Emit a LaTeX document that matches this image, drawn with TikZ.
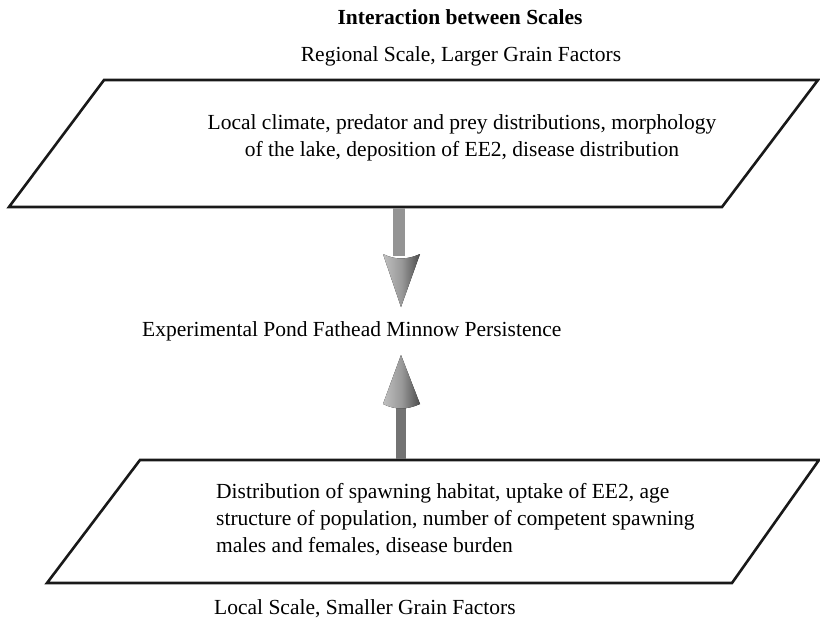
\documentclass[tikz,border=0pt]{standalone}
\usepackage{fontspec}
\setmainfont{Liberation Serif}
\begin{document}
\begin{tikzpicture}[x=1pt,y=-1pt,
  frame/.style={line width=2.6pt, draw=black!90, line join=miter},
  label/.style={font=\fontsize{21.5}{27}\selectfont, inner sep=0pt},
  shaft/.style={fill=black!42, draw=none},
  cone/.style={left color=black!25, right color=black!70, middle color=black!40, draw=none}]
\useasboundingbox (0,0) rectangle (820,623);

% upper parallelogram (regional scale)
\draw[frame] (104,80) -- (818,80) -- (722,207) -- (9,207) -- cycle;
% lower parallelogram (local scale)
\draw[frame] (140,460) -- (819,460) -- (732,583) -- (47,583) -- cycle;

% texts
\node[label, font=\fontsize{21.5}{27}\selectfont\bfseries] (title) at (460,17) {Interaction between Scales};
\node[label] (regional) at (461,56) {Regional Scale, Larger Grain Factors};
\node[label, align=center] (upper) at (462,138)
  {Local climate, predator and prey distributions, morphology\\ of the lake, deposition of EE2, disease distribution};
\node[label, anchor=west] (persist) at (142,331) {Experimental Pond Fathead Minnow Persistence};
\node[label, align=left, anchor=west] (lower) at (216,520)
  {Distribution of spawning habitat, uptake of EE2, age\\ structure of population, number of competent spawning\\ males and females, disease burden};
\node[label, anchor=west] (local) at (214,609) {Local Scale, Smaller Grain Factors};

% downward arrow from the upper box
\fill[shaft] (393,208) rectangle (405,256);
\fill[cone] (383,254) .. controls (395,260) and (407,260) .. (420,254) -- (401,307) -- cycle;

% upward arrow from the lower box
\fill[shaft, fill=black!55] (396,404) rectangle (406,459);
\fill[cone] (383,404) .. controls (395,410) and (407,410) .. (420,404) -- (401,355) -- cycle;
\end{tikzpicture}
\end{document}
